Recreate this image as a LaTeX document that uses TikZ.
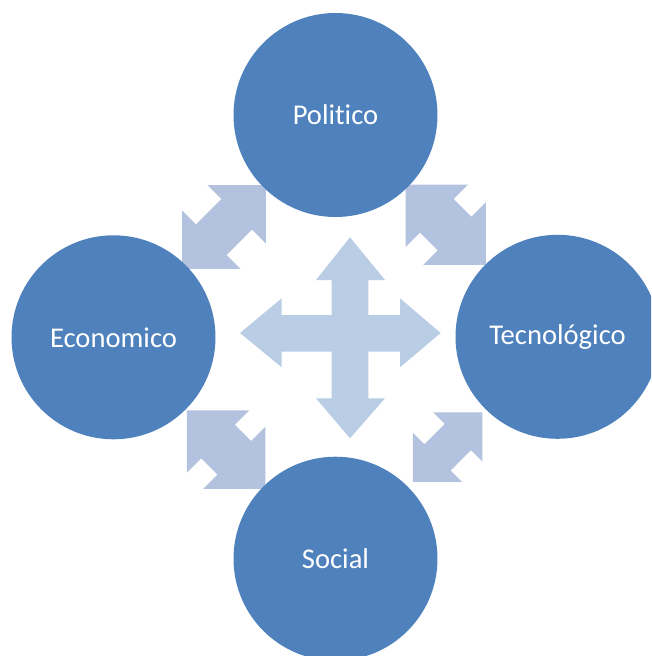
\documentclass[tikz,border=0pt]{standalone}
\usepackage{fontspec}
\setmainfont{Carlito}[Ligatures={NoCommon}]
\definecolor{circblue}{HTML}{4F81BD}
\definecolor{crossblue}{HTML}{B9CDE5}
\definecolor{diagblue}{HTML}{B3C2DE}
\newcommand\myDblArrow[6]{%
  \pgfmathsetmacro\myL{#3/2}%
  \pgfmathsetmacro\myB{#3/2-#4}%
  \fill[diagblue, shift={(#1)}, rotate=#2]
    (-\myL,0) -- (-\myB,#4) -- (-\myB,#5) -- (\myB,#5) -- (\myB,#4) -- (\myL,0)
    -- (\myB,-#4) -- (\myB,-#5) -- (-\myB,-#5) -- (-\myB,-#4) -- cycle;
  \coordinate (#6) at (#1);}
\begin{document}
\begin{tikzpicture}[x=1pt,y=-1pt,
  bubble/.style={circle, fill=circblue, draw=none, minimum size=204pt, inner sep=0pt,
    text=white, font=\fontsize{28.6}{34}\selectfont}]
\useasboundingbox (0,0) rectangle (651,656);
\begin{scope}
\clip (0,0) rectangle (651,656);
% diagonal double arrows
\myDblArrow{224,227}{45}{118.3}{41.2}{21.6}{dTL}
\myDblArrow{445.7,224.7}{-45}{113.6}{44.2}{23.7}{dTR}
\myDblArrow{226.2,449.7}{-45}{111}{44}{23.7}{dBL}
\myDblArrow{447.7,447.2}{45}{98.3}{34.8}{18.6}{dBR}
% central four-way arrow
\fill[crossblue] (350,237.3) -- (385,280) -- (368.3,280) -- (368.3,315) -- (400,315)
  -- (400,298.3) -- (440.7,333) -- (400,367.3) -- (400,351.7) -- (368.3,351.7)
  -- (368.3,398.3) -- (385,398.3) -- (350,438.3) -- (316,398.3) -- (331.7,398.3)
  -- (331.7,351.7) -- (281.7,351.7) -- (281.7,367.3) -- (240,333) -- (281.7,298.3)
  -- (281.7,315) -- (331.7,315) -- (331.7,280) -- (316,280) -- cycle;
% circles
\node[bubble] (pol) at (335.5,115) {Politico};
\node[bubble] (eco) at (113.5,337.3) {Economico};
\node[bubble] (tec) at (557.5,336.8) {Tecnológico};
\node[bubble] (soc) at (335.5,558.7) {Social};
\end{scope}
\end{tikzpicture}
\end{document}
